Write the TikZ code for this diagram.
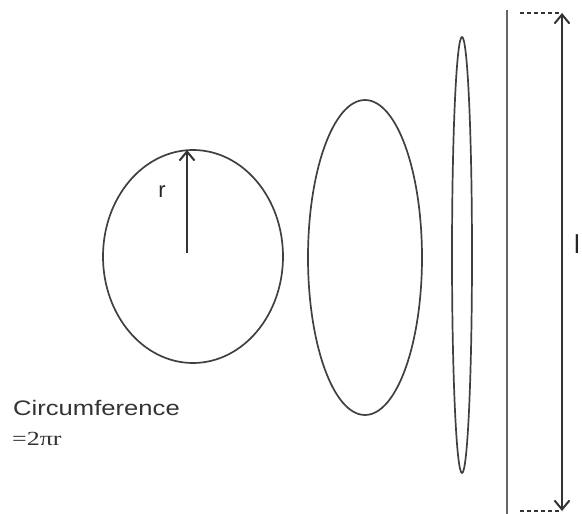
\documentclass[tikz,border=0pt]{standalone}
\usepackage{fontspec}
\setmainfont{Liberation Serif}
\newfontfamily\labelfont{Liberation Sans}
\usetikzlibrary{arrows.meta}

\begin{document}
\begin{tikzpicture}[x=1pt,y=-1pt,
    outline/.style={line width=1.7pt, draw=black!75},
    barb/.tip={Straight Barb[length=9pt,width=15pt,line width=2pt]},
    measure/.style={line width=2pt, draw=black!80},
    guide/.style={line width=1.5pt, draw=black!80, dash pattern=on 4pt off 3pt}]

    \useasboundingbox (0,0) rectangle (582,514);

    \def\lt{13}
    \def\lb{511}

    % --- Circle with radius ---
    \draw[outline] (193,256.5) ellipse (90 and 106.5);
    \coordinate (rfoot) at (187,253);
    \coordinate (rtip) at (187,150);
    \draw[measure, -barb] (rfoot) -- (rtip);
    \node[anchor=base, font=\labelfont\fontsize{22}{24}\selectfont, text=black!85] (rlab) at (162,197) {r};

    % --- Flattened ellipses ---
    \draw[outline] (365,257.5) ellipse (57 and 157.5);
    \draw[outline] (462,255) ellipse (10 and 218);

    % --- Straight line ---
    \coordinate (lntop) at (507,10);
    \coordinate (lnbot) at (507,514);
    \draw[outline, draw=black!60, line width=1.8pt] (lntop) -- (lnbot);

    % --- Length arrow ---
    \coordinate (atop) at (562,\lt);
    \coordinate (abot) at (562,\lb);
    \coordinate (dtop) at (520,\lt);
    \coordinate (dbot) at (520,\lb);
    \draw[guide] (dtop) -- (atop);
    \draw[guide] (dbot) -- (abot);
    \draw[measure, barb-barb] (atop) -- (abot);
    \node[anchor=base west, inner sep=0pt, font=\labelfont\fontsize{26}{28}\selectfont, text=black!85] (llab) at (574,253) {l};

    % --- Labels ---
    \node[anchor=base west, inner sep=0pt, font=\labelfont\fontsize{21}{24}\selectfont, text=black!80] (circ) at (13,415) {\scalebox{1.22}[1]{Circumference}};
    \node[anchor=base west, inner sep=0pt, font=\fontsize{20}{22}\selectfont, text=black!80] (form) at (12,445) {\scalebox{1.3}[1]{=2πr}};

\end{tikzpicture}
\end{document}
